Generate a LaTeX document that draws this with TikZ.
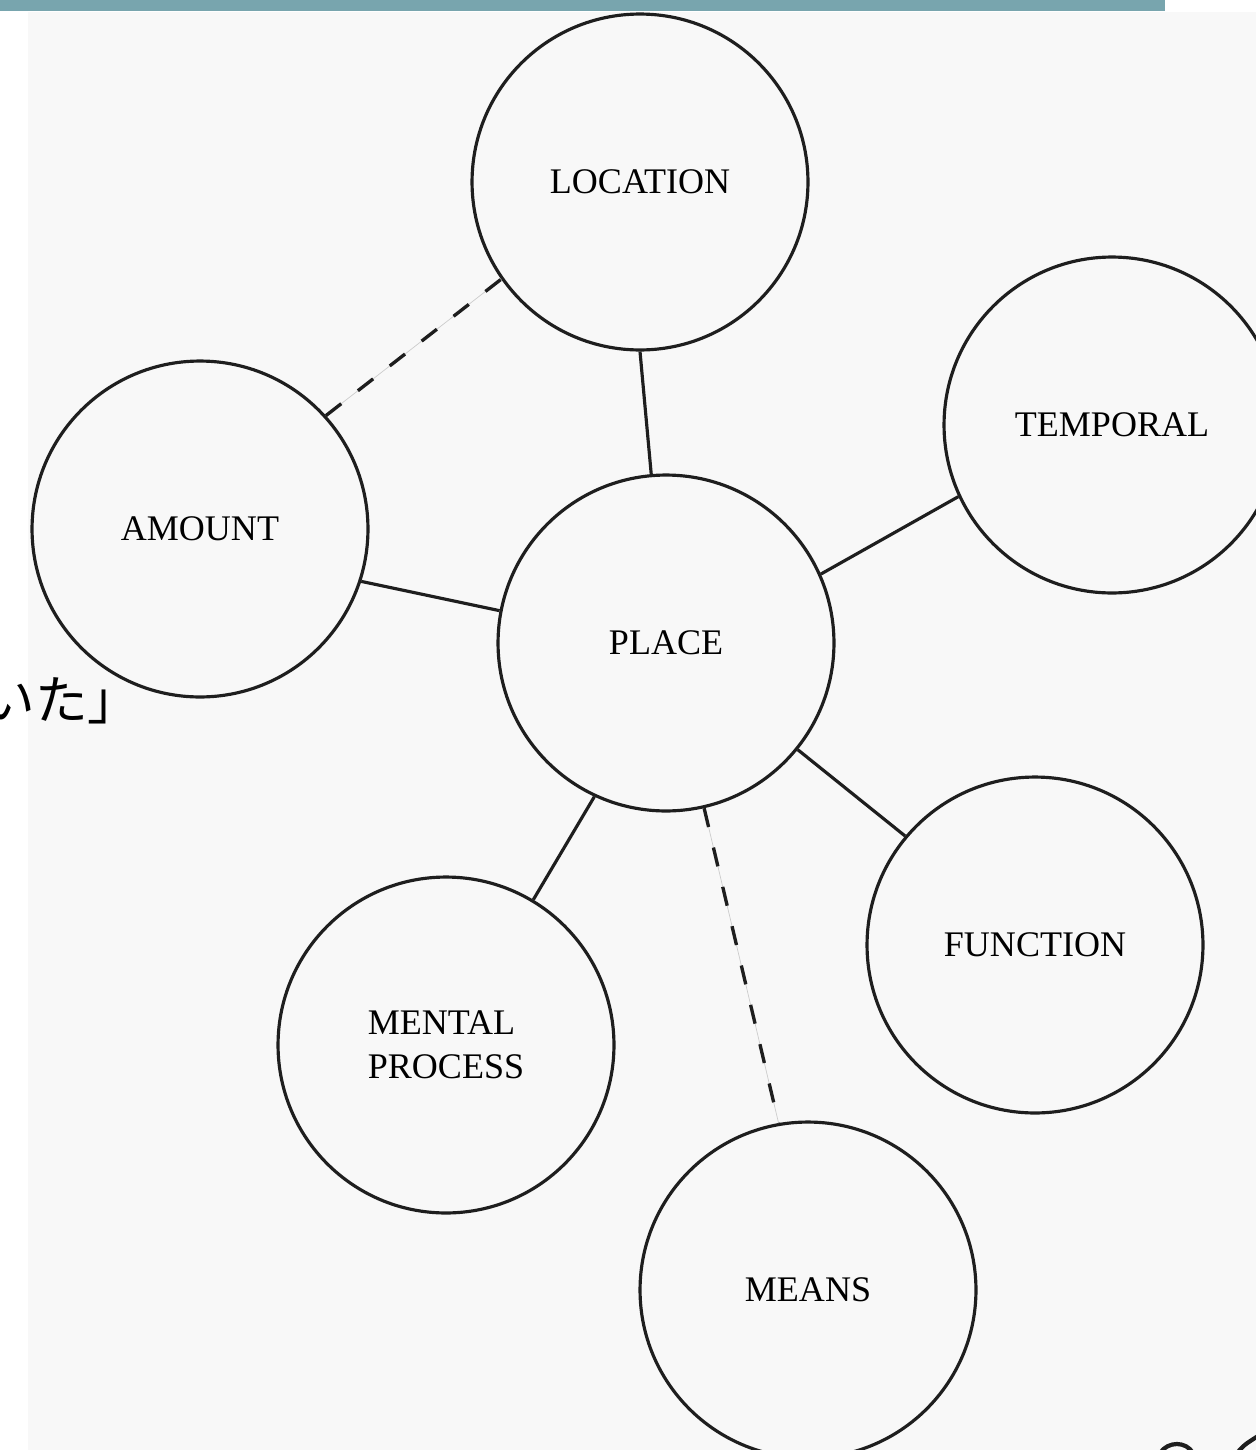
\documentclass[tikz,border=0pt]{standalone}
\usepackage{fontspec}
\setmainfont{Liberation Serif}
\newfontfamily\jpfont{Noto Sans CJK JP}
\definecolor{barteal}{RGB}{120,165,174}
\definecolor{paper}{RGB}{248,248,248}
\definecolor{ink}{RGB}{30,30,30}

\begin{document}
\begin{tikzpicture}[x=0.02cm,y=-0.02cm,
	topic/.style={circle, draw=ink, line width=1.8pt, minimum size=6.72cm, inner sep=0pt,
		font=\fontsize{20.5}{25}\selectfont, align=left},
	link/.style={draw=ink, line width=1.8pt},
	linkdash/.style={draw=black!20, line width=0.4pt,
		postaction={draw=ink, line width=1.9pt, dash pattern=on 11pt off 12pt}}]
	\useasboundingbox (0,0) rectangle (1256,1450);
	\fill[paper] (28,12) rectangle (1256,1450);
	\fill[barteal] (0,0) rectangle (1165,11);

	\node[topic] (location) at (640,182) {LOCATION};
	\node[topic] (temporal) at (1112,425) {TEMPORAL};
	\node[topic] (amount) at (200,529) {AMOUNT};
	\node[topic] (place) at (666,643) {PLACE};
	\node[topic] (function) at (1035,945) {FUNCTION};
	\node[topic] (mental) at (446,1045) {MENTAL\\PROCESS};
	\node[topic] (means) at (808,1290) {MEANS};

	\node[font=\jpfont\fontsize{30}{30}\selectfont, anchor=base west, inner sep=0pt] (cuttext) at (-18,719) {いた」};

	\draw[link] (location.270.3) -- (place.95.8);
	\draw[link] (amount.-18.4) -- (place.169.6);
	\draw[link] (place.24.7) -- (temporal.205.6);
	\draw[link] (place.245.1) -- (mental.59.8);
	\draw[link] (place.-39.8) -- (function.140.5);
	\path[linkdash] (place.-77.2) -- (means.100.5);
	\path[linkdash] (amount.42.2) -- (location.215);

	% cut-off strokes at the lower edge
	\draw[ink, line width=2.4pt] (1160,1453) .. controls (1168,1441) and (1186,1441) .. (1193,1453);
	\draw[ink, line width=2.4pt] (1237,1453) .. controls (1244,1445) .. (1258,1436);
\end{tikzpicture}
\end{document}
